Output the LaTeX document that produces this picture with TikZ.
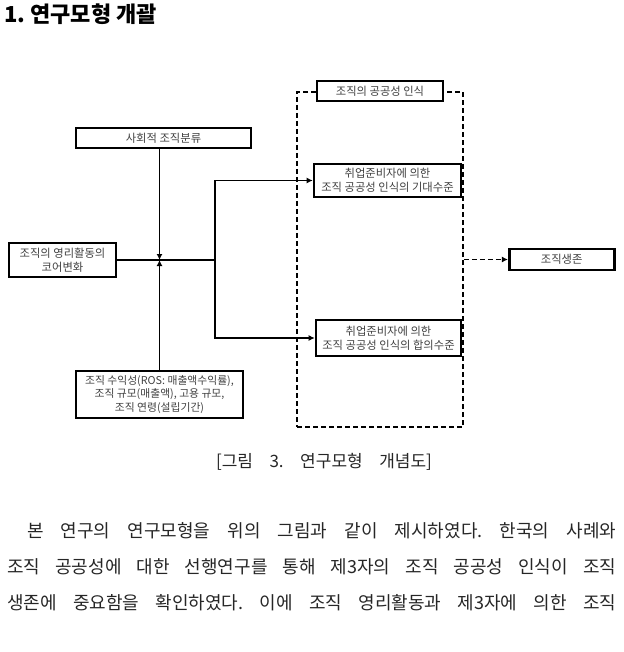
\documentclass[tikz,border=0pt]{standalone}
\usepackage{fontspec}
\setmainfont{Noto Sans CJK KR}
\usetikzlibrary{positioning, calc, arrows.meta}
\frenchspacing

\begin{document}
\begin{tikzpicture}[
    x=1pt, y=-1pt,
    % Node styles
    box/.style={
        draw, line width=2.6pt, inner sep=1pt, align=center,
        font=\fontsize{11.3pt}{14pt}\selectfont, text=black!75
    },
    grp/.style={
        draw, dashed, line width=1.8pt, dash pattern=on 5pt off 3pt
    },
    heading/.style={
        font=\fontsize{22pt}{25pt}\selectfont\bfseries, inner sep=0pt
    },
    caption/.style={
        font=\fontsize{17pt}{20pt}\selectfont, inner sep=0pt, text=black!85
    },
    bodytext/.style={
        font=\fontsize{18pt}{22pt}\selectfont, inner sep=0pt, text=black!85
    },
    % Edge style
    edge/.style={draw, line width=1.6pt},
    % Arrow style
    arrow/.style={-{Latex[length=6pt, width=6pt]}, line width=1.6pt},
    dasharrow/.style={arrow, dash pattern=on 5pt off 3pt},
]

\useasboundingbox (0,0) rectangle (623,652);

% ===== HEADING =====
\node[heading, anchor=west] (hd) at (4,14) {1. 연구모형 개괄};

% ===== LEFT SIDE: inputs =====

% Social classification (top)
\node[box, minimum width=175pt, minimum height=20pt] (box-social) at (163.5,138) {사회적 조직분류};

% Core change (left)
\node[box, minimum width=107pt, minimum height=34pt] (box-core) at (62.5,260)
    {조직의 영리활동의\\코어변화};

% Control variables (bottom)
\node[box, minimum width=167pt, minimum height=47pt, font=\fontsize{10.8pt}{13.5pt}\selectfont] (box-ctrl) at (159.5,394.5)
    {조직 수익성(ROS: 매출액수익률),\\조직 규모(매출액), 고용 규모,\\조직 연령(설립기간)};

% Junction and spine
\coordinate (junc) at (box-ctrl.north |- box-core.east);
\coordinate (spine) at (215,0);

% ===== RIGHT SIDE: perception group =====

% Dashed group box
\node[grp, minimum width=166pt, minimum height=335pt] (grp-percep) at (380,259.5) {};

% Group title on top edge
\node[box, fill=white, minimum width=126pt, minimum height=20pt] (box-title) at (grp-percep.north)
    {조직의 공공성 인식};

% Expectation level
\node[box, minimum width=147pt, minimum height=33pt] (box-expect) at (387.5,180.5)
    {취업준비자에 의한\\조직 공공성 인식의 기대수준};

% Agreement level
\node[box, minimum width=145pt, minimum height=36pt] (box-agree) at (388.5,338)
    {취업준비자에 의한\\조직 공공성 인식의 합의수준};

% Survival
\node[box, minimum width=105pt, minimum height=21pt, right=44pt of grp-percep] (box-survive)
    {조직생존};

% ===== CONNECTORS =====
\draw[arrow] (box-social.south -| junc) -- (junc);
\draw[arrow] (box-ctrl.north) -- (junc);
\draw[edge] (box-core.east) -- (box-core.east -| spine);
\draw[arrow] (box-core.east -| spine) |- (box-expect.west);
\draw[arrow] (box-core.east -| spine) |- (box-agree.west);
\draw[dasharrow] (grp-percep.east) -- (box-survive.west);

% ===== CAPTION AND BODY TEXT =====
\node[caption] (cap) at (324,462) {\makebox[216pt][s]{[그림 3. 연구모형 개념도]}};

\node[bodytext, anchor=west] (ln-1) at (27,531)
    {\makebox[589pt][s]{본 연구의 연구모형을 위의 그림과 같이 제시하였다. 한국의 사례와}};
\node[bodytext, anchor=west] (ln-2) at (7,567)
    {\makebox[609pt][s]{조직 공공성에 대한 선행연구를 통해 제3자의 조직 공공성 인식이 조직}};
\node[bodytext, anchor=west] (ln-3) at (7,603)
    {\makebox[609pt][s]{생존에 중요함을 확인하였다. 이에 조직 영리활동과 제3자에 의한 조직}};

\end{tikzpicture}
\end{document}
